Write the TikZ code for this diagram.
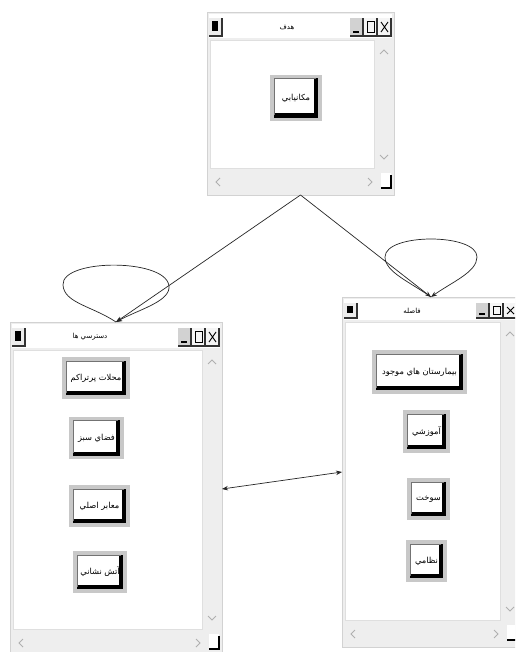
\documentclass[tikz,border=0pt]{standalone}
\usepackage{fontspec}
\usetikzlibrary{arrows.meta}
\newfontfamily\arabicfont[Script=Arabic]{DejaVu Sans}
\TeXXeTstate=1
\definecolor{wgray}{RGB}{238,238,238}
\definecolor{bgray}{RGB}{200,200,200}
\definecolor{chev}{RGB}{175,175,175}
\tikzset{
  winbox/.style={rectangle, draw=gray!35, fill=wgray, line width=0.5pt, inner sep=0pt, outer sep=0pt},
  wtitle/.style={font=\arabicfont\fontsize{7}{8}\selectfont, inner sep=0pt},
  pbtn/.style={rectangle, draw=bgray, line width=3.5pt, fill=white, inner sep=2pt,
    font=\arabicfont\fontsize{8.3}{10}\selectfont,
    path picture={
      \draw[black, line width=12pt] (path picture bounding box.south west) -- (path picture bounding box.south east) -- (path picture bounding box.north east);
      \draw[black!55, line width=0.5pt] ([xshift=2.2pt,yshift=4.2pt]path picture bounding box.south west) |- ([xshift=-4.2pt,yshift=-2.2pt]path picture bounding box.north east);
    }},
  conn/.style={draw=black!85, line width=0.7pt, -{Stealth[length=6pt,width=4.5pt]}},
  conn2/.style={draw=black!85, line width=0.7pt, {Stealth[length=6pt,width=4.5pt]}-{Stealth[length=6pt,width=4.5pt]}}
}
% #1 name #2 x1 #3 y1 #4 x2 #5 y2 #6 title #7 title x #8 title height
\newcommand\guiwin[8]{%
  \node[winbox, minimum width={#4-#2}, minimum height={#5-#3}] (#1) at ({(#2+#4)/2},{(#3+#5)/2}) {};
  \fill[white] (#2+2,#3+2) rectangle (#4-2,#3+#8-2);
  \fill[white] (#2+3,#3+#8) rectangle (#4-20,#5-27);
  \draw[gray!25,line width=0.4pt] (#2+3,#3+#8) rectangle (#4-20,#5-27);
  % window icon
  \fill[gray!15] (#2+2,#3+6) rectangle (#2+15,#3+#8-4);
  \fill[black] (#2+5,#3+9) rectangle (#2+11,#3+#8-9);
  \draw[black!80,line width=1.2pt] (#2+2,#3+#8-4) -- (#2+15,#3+#8-4) -- (#2+15,#3+6);
  % title buttons
  \fill[gray!35] (#4-44,#3+6) rectangle (#4-31,#3+#8-4);
  \fill[black] (#4-41,#3+#8-9) rectangle (#4-35,#3+#8-7);
  \fill[gray!8] (#4-30,#3+6) rectangle (#4-17,#3+#8-4);
  \draw[black,line width=0.9pt] (#4-27,#3+9) rectangle (#4-20,#3+#8-8);
  \fill[gray!8] (#4-16,#3+6) rectangle (#4-3,#3+#8-4);
  \draw[black,line width=0.9pt] (#4-13,#3+10) -- (#4-6,#3+#8-8) (#4-6,#3+10) -- (#4-13,#3+#8-8);
  \foreach \a/\b in {44/31,30/17,16/3}{
    \draw[black!80,line width=1.2pt] (#4-\a,#3+#8-4) -- (#4-\b,#3+#8-4) -- (#4-\b,#3+6);
  }
  \node[wtitle] at (#7,#3+#8/2+1) {#6};
  % scroll bars
  \draw[chev,line width=0.8pt] (#4-14,#3+#8+14) -- (#4-10,#3+#8+10) -- (#4-6,#3+#8+14);
  \draw[chev,line width=0.8pt] (#4-14,#5-40) -- (#4-10,#5-36) -- (#4-6,#5-40);
  \draw[chev,line width=0.8pt] (#2+13,#5-17) -- (#2+9,#5-13) -- (#2+13,#5-9);
  \draw[chev,line width=0.8pt] (#4-26,#5-17) -- (#4-22,#5-13) -- (#4-26,#5-9);
  \fill[white] (#4-13,#5-22) rectangle (#4-3,#5-7);
  \draw[black,line width=1.5pt] (#4-13,#5-7) -- (#4-3,#5-7) -- (#4-3,#5-20);
}
\begin{document}
\begin{tikzpicture}[x=1pt,y=-1pt]
\useasboundingbox (0,0) rectangle (515,652);
\fill[white] (0,0) rectangle (515,652);
\clip (0,0) rectangle (515,652);

\guiwin{tw}{207}{12}{394}{195}{\beginR هدف\endR}{287}{28}
\guiwin{lw}{10}{322}{222}{656}{\beginR دسترسي ها\endR}{90}{28}
\guiwin{rw}{342}{297}{520}{647}{\beginR فاصله\endR}{412}{25}

\node[pbtn, minimum width=48, minimum height=43] (b0) at (296,98) {\beginR مکانيابي\endR};

\node[pbtn, minimum width=64, minimum height=38] (l1) at (96,378) {\beginR محلات پرتراکم\endR};
\node[pbtn, minimum width=51, minimum height=39] (l2) at (96.5,438) {\beginR فضاي سبز\endR};
\node[pbtn, minimum width=57, minimum height=38] (l3) at (99.5,506) {\beginR معابر اصلي\endR};
\node[pbtn, minimum width=50, minimum height=38] (l4) at (100,572) {\beginR آتش نشاني\endR};

\node[pbtn, minimum width=91, minimum height=40] (r1) at (419.5,372) {\beginR بيمارستان هاي موجود\endR};
\node[pbtn, minimum width=43, minimum height=39] (r2) at (426.5,431.5) {\beginR آموزشي\endR};
\node[pbtn, minimum width=39, minimum height=38] (r3) at (428.5,499) {\beginR سوخت\endR};
\node[pbtn, minimum width=37, minimum height=38] (r4) at (426.5,561) {\beginR نظامي\endR};

% connectors
\draw[conn] (tw.south) -- (lw.north);
\draw[conn] (tw.south) -- (rw.north);
\draw[conn] (lw.north) .. controls (92,306) and (64,303) .. (63,285)
  .. controls (61,258) and (171,258) .. (169,288)
  .. controls (168,302) and (138,310) .. (lw.north);
\draw[conn] (rw.north) .. controls (410,282) and (385,272) .. (385,257)
  .. controls (385,233) and (477,233) .. (477,257)
  .. controls (477,272) and (452,282) .. (rw.north);
\draw[conn2] (lw.east) -- (rw.west);
\end{tikzpicture}
\end{document}
